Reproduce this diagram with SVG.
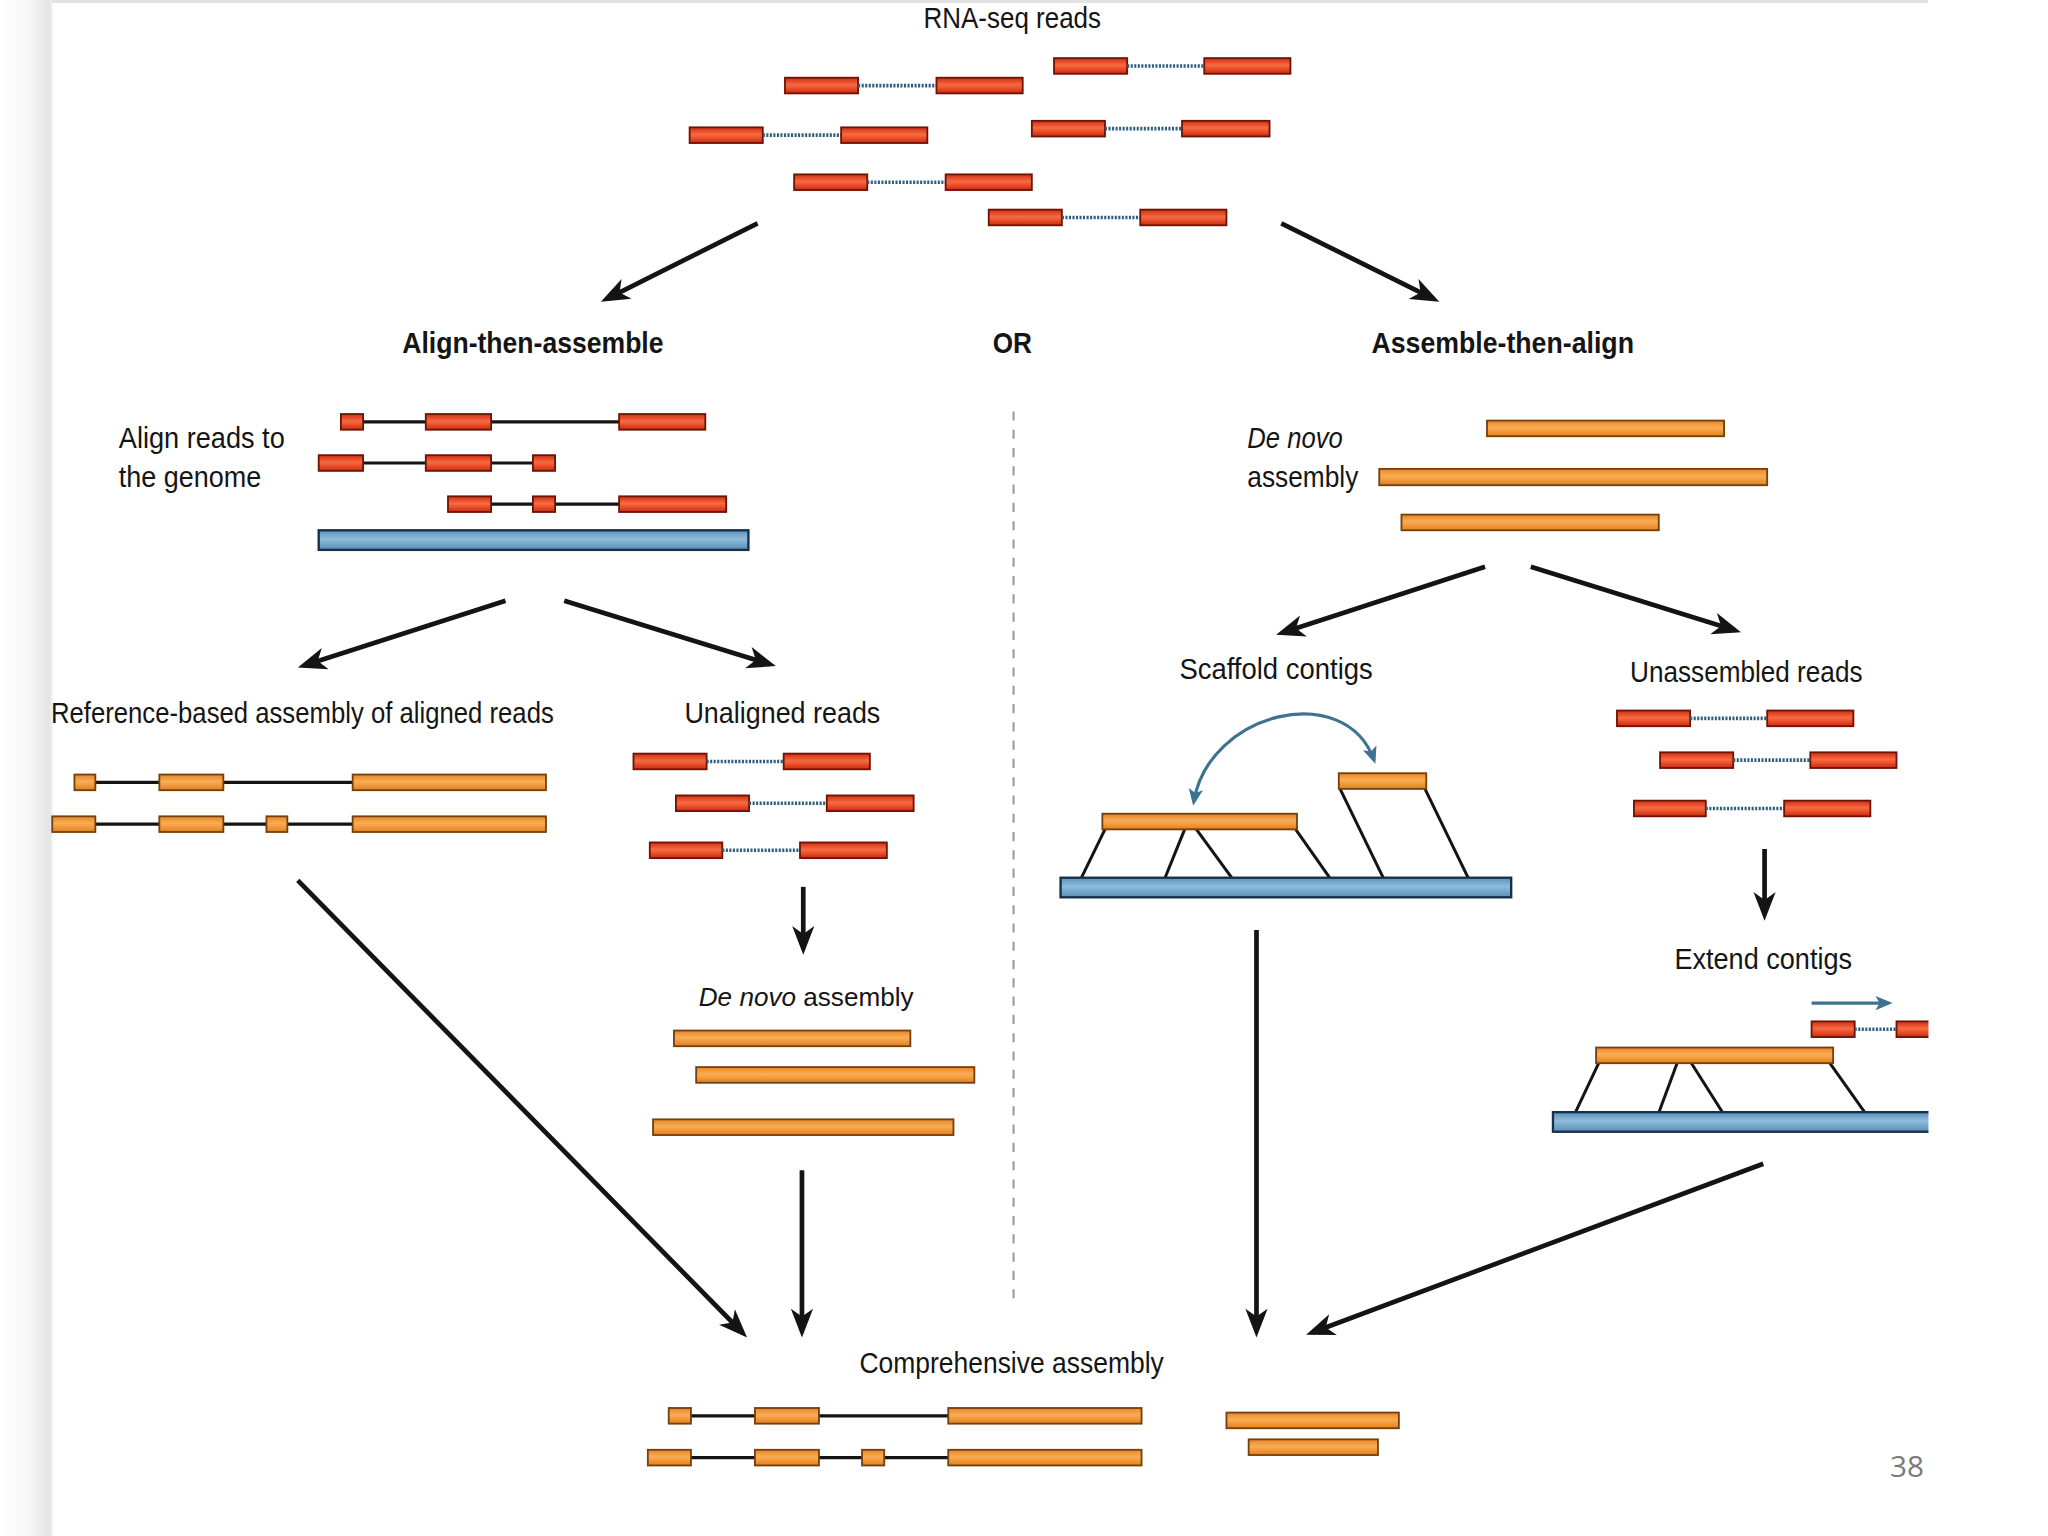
<svg xmlns="http://www.w3.org/2000/svg" width="2048" height="1536" viewBox="0 0 2048 1536">
<defs>
<linearGradient id="gR" x1="0" y1="0" x2="0" y2="1"><stop offset="0" stop-color="#cf2e14"/><stop offset="0.45" stop-color="#f76a40"/><stop offset="0.6" stop-color="#f05a32"/><stop offset="1" stop-color="#c82a12"/></linearGradient>
<linearGradient id="gO" x1="0" y1="0" x2="0" y2="1"><stop offset="0" stop-color="#e8862a"/><stop offset="0.45" stop-color="#f9ad55"/><stop offset="0.6" stop-color="#f6a044"/><stop offset="1" stop-color="#e0801f"/></linearGradient>
<linearGradient id="gB" x1="0" y1="0" x2="0" y2="1"><stop offset="0" stop-color="#5d90b8"/><stop offset="0.45" stop-color="#8dbcdc"/><stop offset="1" stop-color="#5a8cb4"/></linearGradient>
<linearGradient id="gShadow" x1="0" y1="0" x2="1" y2="0"><stop offset="0" stop-color="#ffffff"/><stop offset="0.55" stop-color="#f6f6f6"/><stop offset="0.92" stop-color="#e4e4e4"/><stop offset="1" stop-color="#ffffff"/></linearGradient>
<marker id="ah" markerUnits="userSpaceOnUse" markerWidth="30" markerHeight="22" viewBox="-20 -11 30 22" refX="0" refY="0" orient="auto"><path d="M5,0 L-17,-8.5 L-11,0 L-17,8.5 Z" fill="#141414"/></marker>
<marker id="ahT" markerUnits="userSpaceOnUse" markerWidth="20" markerHeight="16" viewBox="-14 -8 20 16" refX="0" refY="0" orient="auto-start-reverse"><path d="M3,0 L-10,-5.5 L-7,0 L-10,5.5 Z" fill="#3d7391"/></marker>
<style>
.r{fill:url(#gR);stroke:#6e1404;stroke-width:1.4}
.o{fill:url(#gO);stroke:#74400c;stroke-width:1.4}
.b{fill:url(#gB);stroke:#16304a;stroke-width:1.8}
.in{stroke:#141414;stroke-width:2.4;fill:none}
.dt{stroke:#2f5f7f;stroke-width:2.8;stroke-dasharray:1.6 1.1;fill:none}
.ln{stroke:#141414;stroke-width:2.3;fill:none}
.ar{stroke:#141414;stroke-width:3.6;fill:none;marker-end:url(#ah)}
.ta{stroke:#3d7391;stroke-width:2.4;fill:none}
.t{font-family:"Liberation Sans Narrow","Liberation Sans",Arial,sans-serif;font-size:22px;fill:#151515}
.tb{font-family:"Liberation Sans Narrow","Liberation Sans",Arial,sans-serif;font-size:23px;font-weight:bold;fill:#151515}
.it{font-style:italic}
.pg{font-family:"Open Sans","Noto Sans",sans-serif;font-size:22px;fill:#7a7a7a}
</style>
</defs>
<rect x="0" y="0" width="2048" height="1536" fill="#ffffff"/>
<rect x="0" y="0" width="54" height="1536" fill="url(#gShadow)"/>
<rect x="52" y="0" width="1876" height="3" fill="#e2e2e2"/>
<g transform="scale(1.30612)">
<g id="connectors">
<line class="ar" x1="580" y1="171" x2="464.5" y2="228.8"/>
<line class="ar" x1="981" y1="171" x2="1097.5" y2="228.8"/>
<line class="ar" x1="387" y1="460" x2="232.8" y2="509.5"/>
<line class="ar" x1="432" y1="460" x2="589.2" y2="508.5"/>
<line class="ar" x1="1137" y1="434" x2="981.8" y2="484.5"/>
<line class="ar" x1="1172" y1="434" x2="1328.2" y2="482.5"/>
<line class="ar" x1="615" y1="679" x2="615" y2="726"/>
<line class="ar" x1="1351" y1="650" x2="1351" y2="700"/>
<line class="ar" x1="614" y1="896" x2="614" y2="1019"/>
<line class="ar" x1="228" y1="674" x2="568.5" y2="1020.4"/>
<line class="ar" x1="962" y1="712" x2="962" y2="1019"/>
<line class="ar" x1="1350" y1="891" x2="1004.7" y2="1020.2"/>
<line x1="776" y1="315" x2="776" y2="1001" stroke="#9a9a9a" stroke-width="1.6" stroke-dasharray="7 7"/>
</g>
<g id="rnaseq-reads">
<text class="t" x="707" y="21.5" textLength="136" lengthAdjust="spacingAndGlyphs">RNA-seq reads</text>
<rect class="r" x="601" y="59.5" width="56" height="12"/><line class="dt" x1="657" y1="65.5" x2="717" y2="65.5"/><rect class="r" x="717" y="59.5" width="66" height="12"/>
<rect class="r" x="807" y="44.5" width="56" height="12"/><line class="dt" x1="863" y1="50.5" x2="922" y2="50.5"/><rect class="r" x="922" y="44.5" width="66" height="12"/>
<rect class="r" x="528" y="97.5" width="56" height="12"/><line class="dt" x1="584" y1="103.5" x2="644" y2="103.5"/><rect class="r" x="644" y="97.5" width="66" height="12"/>
<rect class="r" x="790" y="92.5" width="56" height="12"/><line class="dt" x1="846" y1="98.5" x2="905" y2="98.5"/><rect class="r" x="905" y="92.5" width="67" height="12"/>
<rect class="r" x="608" y="133.5" width="56" height="12"/><line class="dt" x1="664" y1="139.5" x2="724" y2="139.5"/><rect class="r" x="724" y="133.5" width="66" height="12"/>
<rect class="r" x="757" y="160.5" width="56" height="12"/><line class="dt" x1="813" y1="166.5" x2="873" y2="166.5"/><rect class="r" x="873" y="160.5" width="66" height="12"/>
</g>
<g id="titles">
<text class="tb" x="308" y="270" textLength="200" lengthAdjust="spacingAndGlyphs">Align-then-assemble</text>
<text class="tb" x="760" y="270" textLength="30" lengthAdjust="spacingAndGlyphs">OR</text>
<text class="tb" x="1050" y="270" textLength="201" lengthAdjust="spacingAndGlyphs">Assemble-then-align</text>
</g>
<g id="align-reads">
<text class="t" x="91" y="343" textLength="127" lengthAdjust="spacingAndGlyphs">Align reads to</text>
<text class="t" x="91" y="372.5" textLength="109" lengthAdjust="spacingAndGlyphs">the genome</text>
<line class="in" x1="277" y1="323" x2="474" y2="323"/>
<rect class="r" x="261" y="317" width="17" height="12"/><rect class="r" x="326" y="317" width="50" height="12"/><rect class="r" x="474" y="317" width="66" height="12"/>
<line class="in" x1="277" y1="354.5" x2="409" y2="354.5"/>
<rect class="r" x="244" y="348.5" width="34" height="12"/><rect class="r" x="326" y="348.5" width="50" height="12"/><rect class="r" x="408" y="348.5" width="17" height="12"/>
<line class="in" x1="376" y1="386" x2="474" y2="386"/>
<rect class="r" x="343" y="380" width="33" height="12"/><rect class="r" x="408" y="380" width="17" height="12"/><rect class="r" x="474" y="380" width="82" height="12"/>
<rect class="b" x="244" y="406" width="329" height="15"/>
</g>
<g id="de-novo-right">
<text class="t it" x="955" y="343" textLength="73" lengthAdjust="spacingAndGlyphs">De novo</text>
<text class="t" x="955" y="372.5" textLength="85" lengthAdjust="spacingAndGlyphs">assembly</text>
<rect class="o" x="1138.5" y="322" width="181.5" height="12"/>
<rect class="o" x="1056" y="359" width="297" height="12.5"/>
<rect class="o" x="1073" y="394" width="197" height="12"/>
</g>
<g id="reference-based">
<text class="t" x="39" y="553.5" textLength="385" lengthAdjust="spacingAndGlyphs">Reference-based assembly of aligned reads</text>
<line class="in" x1="72" y1="599" x2="270" y2="599"/>
<rect class="o" x="57" y="593" width="16" height="12"/><rect class="o" x="122" y="593" width="49" height="12"/><rect class="o" x="270" y="593" width="148" height="12"/>
<line class="in" x1="72" y1="631" x2="270" y2="631"/>
<rect class="o" x="40" y="625" width="33" height="12"/><rect class="o" x="122" y="625" width="49" height="12"/><rect class="o" x="204" y="625" width="16" height="12"/><rect class="o" x="270" y="625" width="148" height="12"/>
</g>
<g id="unaligned-reads">
<text class="t" x="524" y="553.5" textLength="150" lengthAdjust="spacingAndGlyphs">Unaligned reads</text>
<rect class="r" x="485" y="577" width="56" height="12"/><line class="dt" x1="541" y1="583" x2="600" y2="583"/><rect class="r" x="600" y="577" width="66" height="12"/>
<rect class="r" x="517.5" y="609" width="56" height="12"/><line class="dt" x1="573.5" y1="615" x2="633" y2="615"/><rect class="r" x="633" y="609" width="66.5" height="12"/>
<rect class="r" x="497.5" y="645" width="55.5" height="12"/><line class="dt" x1="553" y1="651" x2="612.5" y2="651"/><rect class="r" x="612.5" y="645" width="66.5" height="12"/>
</g>
<g id="de-novo-left">
<text class="t" x="535" y="770" style="font-size:20px"><tspan class="it">De novo</tspan> assembly</text>
<rect class="o" x="516" y="789" width="181" height="12"/>
<rect class="o" x="533" y="817" width="213" height="12"/>
<rect class="o" x="500" y="857" width="230" height="12"/>
</g>
<g id="scaffold-contigs">
<text class="t" x="903" y="520" textLength="148" lengthAdjust="spacingAndGlyphs">Scaffold contigs</text>
<path class="ta" d="M914,614 C925,545 1030,520 1052,582" marker-start="url(#ahT)" marker-end="url(#ahT)"/>
<line class="ln" x1="846" y1="635" x2="828" y2="672"/>
<line class="ln" x1="907" y1="635" x2="892" y2="672"/>
<line class="ln" x1="916" y1="635" x2="943" y2="672"/>
<line class="ln" x1="992" y1="635" x2="1018" y2="672"/>
<line class="ln" x1="1026" y1="604" x2="1059" y2="672"/>
<line class="ln" x1="1091" y1="604" x2="1124" y2="672"/>
<rect class="o" x="844" y="623" width="149" height="12"/>
<rect class="o" x="1025" y="592" width="67" height="12"/>
<rect class="b" x="812" y="672" width="345" height="15"/>
</g>
<g id="unassembled-reads">
<text class="t" x="1248" y="522" textLength="178" lengthAdjust="spacingAndGlyphs">Unassembled reads</text>
<rect class="r" x="1238" y="544" width="56" height="12"/><line class="dt" x1="1294" y1="550" x2="1353" y2="550"/><rect class="r" x="1353" y="544" width="66" height="12"/>
<rect class="r" x="1271" y="576" width="56" height="12"/><line class="dt" x1="1327" y1="582" x2="1386" y2="582"/><rect class="r" x="1386" y="576" width="66" height="12"/>
<rect class="r" x="1251" y="613" width="55" height="12"/><line class="dt" x1="1306" y1="619" x2="1366" y2="619"/><rect class="r" x="1366" y="613" width="66" height="12"/>
</g>
<g id="extend-contigs">
<text class="t" x="1282" y="742" textLength="136" lengthAdjust="spacingAndGlyphs">Extend contigs</text>
<line class="ta" x1="1387" y1="768" x2="1446" y2="768" marker-end="url(#ahT)"/>
<rect class="r" x="1387" y="782" width="33" height="12"/><line class="dt" x1="1420" y1="788" x2="1452" y2="788"/><rect class="r" x="1452" y="782" width="26" height="12"/>
<line class="ln" x1="1224" y1="814" x2="1206" y2="852"/>
<line class="ln" x1="1284" y1="814" x2="1270" y2="852"/>
<line class="ln" x1="1295" y1="814" x2="1319" y2="852"/>
<line class="ln" x1="1401" y1="814" x2="1428" y2="852"/>
<rect class="o" x="1222" y="802" width="181.5" height="12"/>
<rect class="b" x="1189" y="851.5" width="290" height="15"/>
</g>
<rect x="1476.5" y="770" width="30" height="110" fill="#ffffff"/>
<g id="comprehensive-assembly">
<text class="t" x="658" y="1051" textLength="233" lengthAdjust="spacingAndGlyphs">Comprehensive assembly</text>
<line class="in" x1="529" y1="1084" x2="726" y2="1084"/>
<rect class="o" x="512" y="1078" width="17" height="12"/><rect class="o" x="578" y="1078" width="49" height="12"/><rect class="o" x="726" y="1078" width="148" height="12"/>
<line class="in" x1="529" y1="1116" x2="726" y2="1116"/>
<rect class="o" x="496" y="1110" width="33" height="12"/><rect class="o" x="578" y="1110" width="49" height="12"/><rect class="o" x="660" y="1110" width="17" height="12"/><rect class="o" x="726" y="1110" width="148" height="12"/>
<rect class="o" x="939" y="1081.5" width="132" height="12"/>
<rect class="o" x="956" y="1102" width="99" height="12"/>
</g>
<text class="pg" x="1447" y="1130.5" textLength="26" lengthAdjust="spacingAndGlyphs">38</text>
</g>
</svg>
